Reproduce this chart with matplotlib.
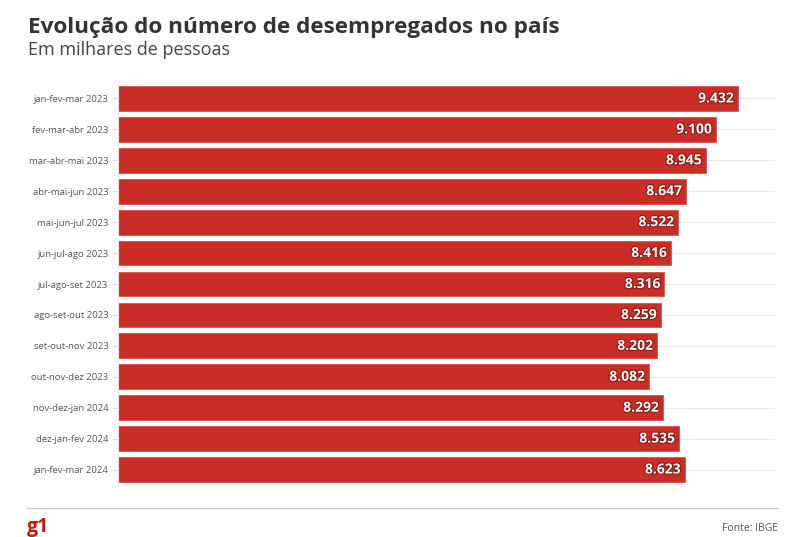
import matplotlib
matplotlib.use("Agg")
import matplotlib.pyplot as plt
import matplotlib.patheffects as pe

categories = ["jan-fev-mar 2023", "fev-mar-abr 2023", "mar-abr-mai 2023", "abr-mai-jun 2023",
              "mai-jun-jul 2023", "jun-jul-ago 2023", "jul-ago-set 2023", "ago-set-out 2023",
              "set-out-nov 2023", "out-nov-dez 2023", "nov-dez-jan 2024", "dez-jan-fev 2024",
              "jan-fev-mar 2024"]
values = [9432, 9100, 8945, 8647, 8522, 8416, 8316, 8259, 8202, 8082, 8292, 8535, 8623]
value_labels = ["9.432", "9.100", "8.945", "8.647", "8.522", "8.416", "8.316", "8.259",
                "8.202", "8.082", "8.292", "8.535", "8.623"]

plt.rcParams['font.family'] = ['Open Sans', 'DejaVu Sans']

fig = plt.figure(figsize=(7.97, 5.37), dpi=100)
ax = fig.add_axes([118/797, 1-485/537, (775-118)/797, (485-83)/537])

ypos = list(range(len(categories)))
ax.barh(ypos, values, height=0.8, color="#C92D25", edgecolor="#d8524b", linewidth=0.6, zorder=2)
for y, v, lab in zip(ypos, values, value_labels):
    ax.text(v - 60, y, lab, ha="right", va="center", color="white", fontsize=10,
            fontweight="bold", zorder=3,
            path_effects=[pe.withStroke(linewidth=1.5, foreground="#8a1a14")])

ax.set_xlim(0, 10000)
ax.set_ylim(len(categories) - 0.5, -0.5)
ax.set_yticks(ypos)
ax.set_yticklabels(categories, fontsize=6.8, color="#555555")
ax.tick_params(axis="y", length=4, color="#dddddd", pad=3)
ax.set_xticks([])
for s in ["top", "right", "bottom"]:
    ax.spines[s].set_visible(False)
ax.spines["left"].set_color("#e6e6e6")
ax.spines["left"].set_linewidth(0.8)
for y in ypos:
    ax.axhline(y, color="#e9e9e9", linewidth=0.8, zorder=1)

fig.text(28/797, 1-33/537, "Evolução do número de desempregados no país", fontsize=16.2,
         fontweight="bold", color="#333333", ha="left", va="baseline")
fig.text(28/797, 1-55/537, "Em milhares de pessoas", fontsize=13, color="#444444",
         ha="left", va="baseline")

fig.add_artist(plt.Line2D([27/797, 778/797], [1-508/537, 1-508/537], color="#cccccc",
                          linewidth=1, transform=fig.transFigure))
fig.text(27/797, 1-532/537, "g1", fontsize=14, fontweight="bold", color="#C4170C",
         ha="left", va="baseline")
fig.text(778/797, 1-531/537, "Fonte: IBGE", fontsize=7.5, color="#555555",
         ha="right", va="baseline")

fig.savefig("out.png", dpi=100)
